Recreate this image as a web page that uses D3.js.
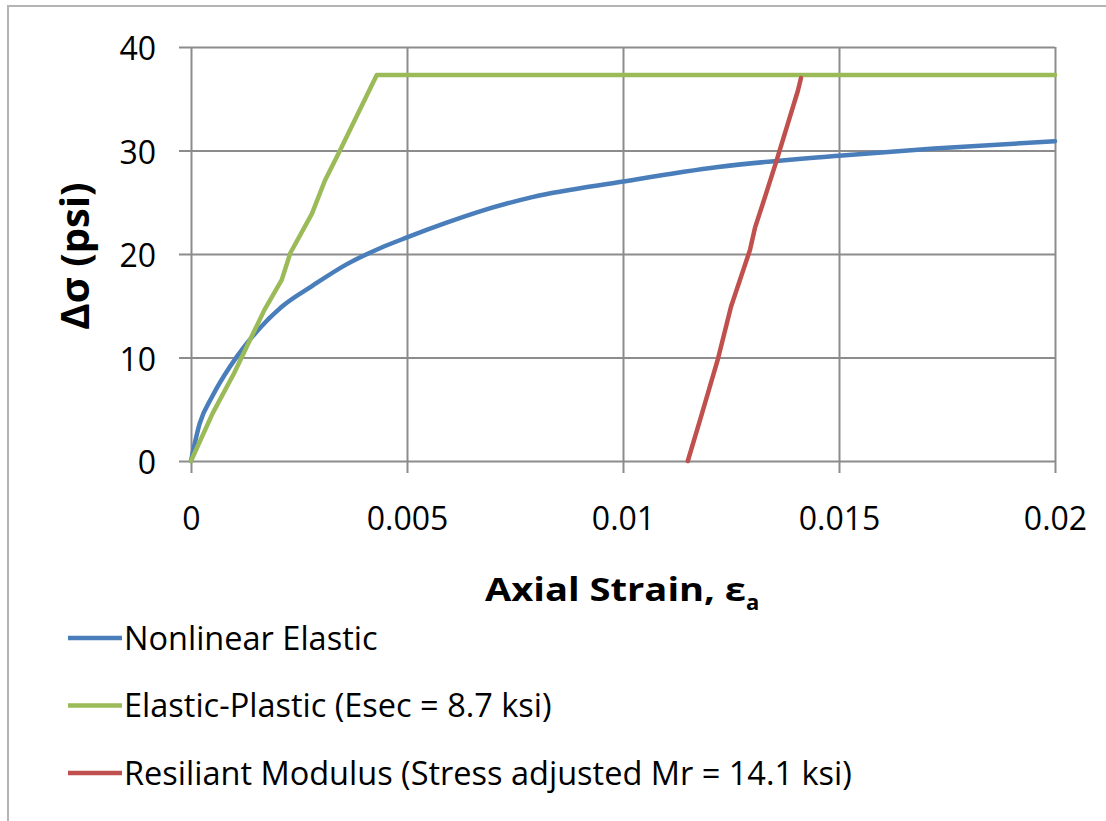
<!DOCTYPE html>
<html>
<head>
<meta charset="utf-8">
<script src="https://cdn.jsdelivr.net/npm/d3@7"></script>
<style>
  body { margin: 0; background: #fff; }
  text { font-family: "Open Sans", sans-serif; fill: #000; }
</style>
</head>
<body>
<div id="chart"></div>
<script>
// values: [axial strain, delta sigma (psi)]
var nonlinearElastic = [
  [0, 0], [0.0002, 3.6], [0.0005, 6.3], [0.0009, 9.1], [0.0013, 11.4],
  [0.0021, 14.9], [0.0028, 16.9], [0.0036, 19.0], [0.0044, 20.6],
  [0.005, 21.6], [0.0059, 23.0], [0.0066, 24.0], [0.0079, 25.5],
  [0.01, 27.0], [0.0122, 28.4], [0.015, 29.5], [0.0172, 30.2], [0.02, 30.9]
];
var elasticPlastic = [
  [0, 0], [0.0005, 4.6], [0.001, 8.5], [0.0014, 12.0], [0.0017, 14.6],
  [0.0021, 17.5], [0.0023, 20.1], [0.0028, 23.9], [0.0031, 27.1],
  [0.0034, 29.6], [0.0043, 37.3], [0.02, 37.3]
];
var resilientModulus = [
  [0.0115, 0], [0.0118, 4.2], [0.0122, 9.9], [0.0125, 14.9],
  [0.01294, 20.4], [0.01306, 22.6], [0.01324, 24.9], [0.01356, 29.1],
  [0.01405, 35.8], [0.01412, 37.0]
];
var seriesNames = [
  "Nonlinear Elastic",
  "Elastic-Plastic (Esec = 8.7 ksi)",
  "Resiliant Modulus (Stress adjusted Mr = 14.1 ksi)"
];
var xTicks = [0, 0.005, 0.01, 0.015, 0.02];
var yTicks = [0, 10, 20, 30, 40];

var colors = ["#4a7ebb", "#9bbb59", "#c0504d"];
var gridColor = "#8c8c8c";

render();

function render() {
  var W = 1106, H = 821;
  var left = 191, right = 1055, top = 47, bottom = 461;

  var svg = d3.select("#chart").append("svg")
    .attr("width", W)
    .attr("height", H);

  // outer chart border (only top/left visible in the crop)
  svg.append("rect")
    .attr("x", 8).attr("y", 6)
    .attr("width", W + 20).attr("height", H + 20)
    .attr("fill", "#fff")
    .attr("stroke", "#b4b4b4")
    .attr("stroke-width", 2);

  var x = d3.scaleLinear().domain([0, 0.02]).range([left, right]);
  var y = d3.scaleLinear().domain([0, 40]).range([bottom, top]);

  // horizontal gridlines + y axis
  var yAxis = svg.append("g")
    .attr("transform", "translate(" + left + ",0)")
    .call(d3.axisLeft(y)
      .tickValues(yTicks)
      .tickSize(-(right - left))
      .tickSizeOuter(0)
      .tickPadding(35)
      .tickFormat(function (d) { return d; }));
  yAxis.select(".domain").remove();
  yAxis.selectAll("line")
    .attr("x1", -12)
    .attr("stroke", gridColor)
    .attr("stroke-width", 2);
  yAxis.selectAll("text")
    .attr("font-size", "32px")
    .attr("dy", "0.4em")
    .attr("font-family", "'Open Sans', sans-serif")
    .attr("fill", "#000");

  // vertical gridlines + x axis
  var xAxis = svg.append("g")
    .attr("transform", "translate(0," + bottom + ")")
    .call(d3.axisBottom(x)
      .tickValues(xTicks)
      .tickSize(-(bottom - top))
      .tickSizeOuter(0)
      .tickPadding(46)
      .tickFormat(function (d) { return String(d); }));
  xAxis.select(".domain").remove();
  xAxis.selectAll("line")
    .attr("y1", 12)
    .attr("stroke", gridColor)
    .attr("stroke-width", 2);
  xAxis.selectAll("text")
    .attr("font-size", "32px")
    .attr("font-family", "'Open Sans', sans-serif")
    .attr("fill", "#000");

  var allSeries = [nonlinearElastic, elasticPlastic, resilientModulus];
  var curves = [d3.curveMonotoneX, d3.curveLinear, d3.curveLinear];
  allSeries.forEach(function (s, i) {
    var line = d3.line()
      .curve(curves[i])
      .x(function (d) { return x(d[0]); })
      .y(function (d) { return y(d[1]); });
    svg.append("path")
      .datum(s)
      .attr("fill", "none")
      .attr("stroke", colors[i])
      .attr("stroke-width", 4.5)
      .attr("stroke-linejoin", "round")
      .attr("stroke-linecap", "round")
      .attr("d", line);
  });

  // axis titles
  svg.append("text")
    .attr("transform", "translate(89,256) rotate(-90)")
    .attr("text-anchor", "middle")
    .attr("font-size", "40px")
    .attr("font-weight", "bold")
    .text("\u0394\u03c3 (psi)");

  var xt = svg.append("text")
    .attr("x", 485)
    .attr("y", 601)
    .attr("font-size", "33px")
    .attr("font-weight", "bold");
  xt.append("tspan")
    .attr("textLength", 261)
    .attr("lengthAdjust", "spacingAndGlyphs")
    .text("Axial Strain, \u03b5");
  xt.append("tspan").attr("font-size", "22px").attr("dy", 9).text("a");

  // legend
  var legend = svg.append("g");
  seriesNames.forEach(function (name, i) {
    var ly = 638 + i * 67.5;
    legend.append("line")
      .attr("x1", 68).attr("x2", 122)
      .attr("y1", ly).attr("y2", ly)
      .attr("stroke", colors[i])
      .attr("stroke-width", 4.5);
    legend.append("text")
      .attr("x", 124)
      .attr("y", ly)
      .attr("dy", "0.36em")
      .attr("font-size", "32.5px")
      .text(name);
  });
}
</script>
</body>
</html>
